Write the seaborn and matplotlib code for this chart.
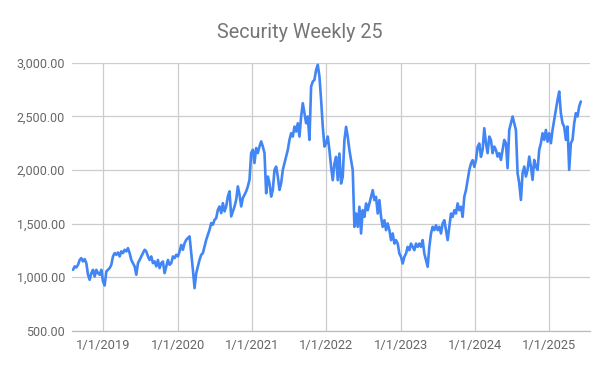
import pandas as pd
import numpy as np
import matplotlib
matplotlib.use("Agg")
import matplotlib.pyplot as plt
import matplotlib.dates as mdates
import seaborn as sns

title = "Security Weekly 25"
start_date = "2018-08-05"
end_date = "2025-06-05"

seg_2018_2019 = [1068, 1100, 1090, 1115, 1160, 1177, 1146, 1168, 1130, 1022, 975, 1037, 1068, 1006,
                 1068, 1037, 1022, 1068, 960, 922, 1053, 1068, 1084, 1115, 1193, 1224, 1208, 1230,
                 1193, 1240, 1224, 1255, 1240, 1270, 1224, 1160, 1130, 1100, 1022, 1130, 1160, 1193,
                 1224, 1255, 1240, 1193, 1160, 1193, 1130, 1146, 1100, 1160, 1084, 1130, 1146, 1037,
                 1100, 1160, 1115, 1130, 1193, 1177, 1208, 1193, 1240, 1300, 1255, 1317, 1348, 1364]
seg_2020 = [1380, 1224, 1068, 897, 1037, 1100, 1162, 1208, 1224, 1286, 1348, 1395, 1442, 1504,
            1489, 1535, 1550, 1628, 1659, 1597, 1690, 1613, 1659, 1753, 1800, 1566, 1613, 1659,
            1721, 1846, 1768, 1659, 1737, 1768, 1800, 1846, 1908, 2157, 2188, 2064, 2204, 2157,
            2219, 2266]
seg_2021 = [2218, 2156, 1782, 1938, 1876, 1751, 1813, 2000, 2031, 1938, 1813, 1876, 2000, 2062,
            2124, 2187, 2280, 2342, 2311, 2404, 2358, 2435, 2311, 2498, 2622, 2529, 2435, 2498,
            2280, 2778, 2824, 2840, 2933, 2980, 2871, 2653, 2404, 2218, 2249, 2311]
seg_2022 = [2184, 2029, 1904, 2060, 2122, 1904, 2153, 1873, 1935, 2278, 2402, 2309, 2184, 2091,
            1998, 1469, 1593, 1469, 1656, 1407, 1624, 1562, 1687, 1624, 1687, 1749, 1811, 1718,
            1749, 1593, 1718, 1562, 1469, 1531, 1438, 1500, 1438, 1345, 1407, 1313]
seg_2023 = [1345, 1313, 1220, 1189, 1127, 1189, 1220, 1282, 1251, 1313, 1282, 1251, 1313, 1282,
            1313, 1282, 1345, 1220, 1158, 1096, 1282, 1407, 1469, 1438, 1484, 1438, 1469, 1407,
            1500, 1531, 1438, 1345, 1469, 1593, 1562, 1624, 1593, 1687, 1624, 1656, 1562, 1749,
            1811, 1904, 1998, 2060, 2091, 2029, 2091, 2215, 2246, 2122]
seg_2024_2025 = [2187, 2389, 2249, 2156, 2311, 2280, 2156, 2218, 2187, 2124, 2156, 2093, 2187,
                 2280, 2249, 2016, 2373, 2435, 2498, 2435, 2373, 1969, 1876, 1720, 1969, 2031,
                 1938, 2000, 2124, 2031, 1907, 2093, 2031, 2000, 2187, 2249, 2342, 2280, 2373,
                 2264, 2342, 2249, 2373, 2467, 2560, 2653, 2731, 2529, 2435, 2404, 2280, 2404,
                 2000, 2249, 2280, 2435, 2529, 2498, 2591, 2638]

values = seg_2018_2019 + seg_2020 + seg_2021 + seg_2022 + seg_2023 + seg_2024_2025
dates = pd.date_range(start_date, end_date, periods=len(values))
df = pd.DataFrame({"date": dates, "value": values})

y_ticks = [500, 1000, 1500, 2000, 2500, 3000]
x_tick_dates = pd.to_datetime(["2019-01-01", "2020-01-01", "2021-01-01", "2022-01-01",
                               "2023-01-01", "2024-01-01", "2025-01-01"])
x_tick_labels = ["1/1/2019", "1/1/2020", "1/1/2021", "1/1/2022", "1/1/2023", "1/1/2024", "1/1/2025"]

sns.set_style("white")
plt.rcParams["font.family"] = ["Roboto", "DejaVu Sans"]

fig = plt.figure(figsize=(6, 3.71), dpi=100)
ax = fig.add_axes([0.12, 0.1086, 0.863, 0.7224])

sns.lineplot(data=df, x="date", y="value", ax=ax, color="#4285F4", linewidth=1.9)

ax.set_ylim(500, 3000)
ax.set_xlim(pd.Timestamp("2018-07-31"), pd.Timestamp("2025-07-19"))
ax.set_yticks(y_ticks)
ax.set_yticklabels([f"{v:,.2f}" for v in y_ticks])
ax.set_xticks(x_tick_dates)
ax.set_xticklabels(x_tick_labels)

ax.grid(True, color="#cccccc", linewidth=0.9)
ax.set_axisbelow(True)
for s in ["top", "right", "left"]:
    ax.spines[s].set_visible(False)
ax.spines["bottom"].set_color("#bbbbbb")
ax.spines["bottom"].set_linewidth(0.9)
ax.tick_params(axis="y", length=0, labelsize=9, labelcolor="#666666", pad=5)
ax.tick_params(axis="x", length=0, labelsize=9.3, labelcolor="#666666", pad=6)
ax.set_xlabel("")
ax.set_ylabel("")

fig.text(0.5, 0.913, title, ha="center", va="center", fontsize=14.2, color="#757575")

fig.savefig("out.png", dpi=100, facecolor="white")
